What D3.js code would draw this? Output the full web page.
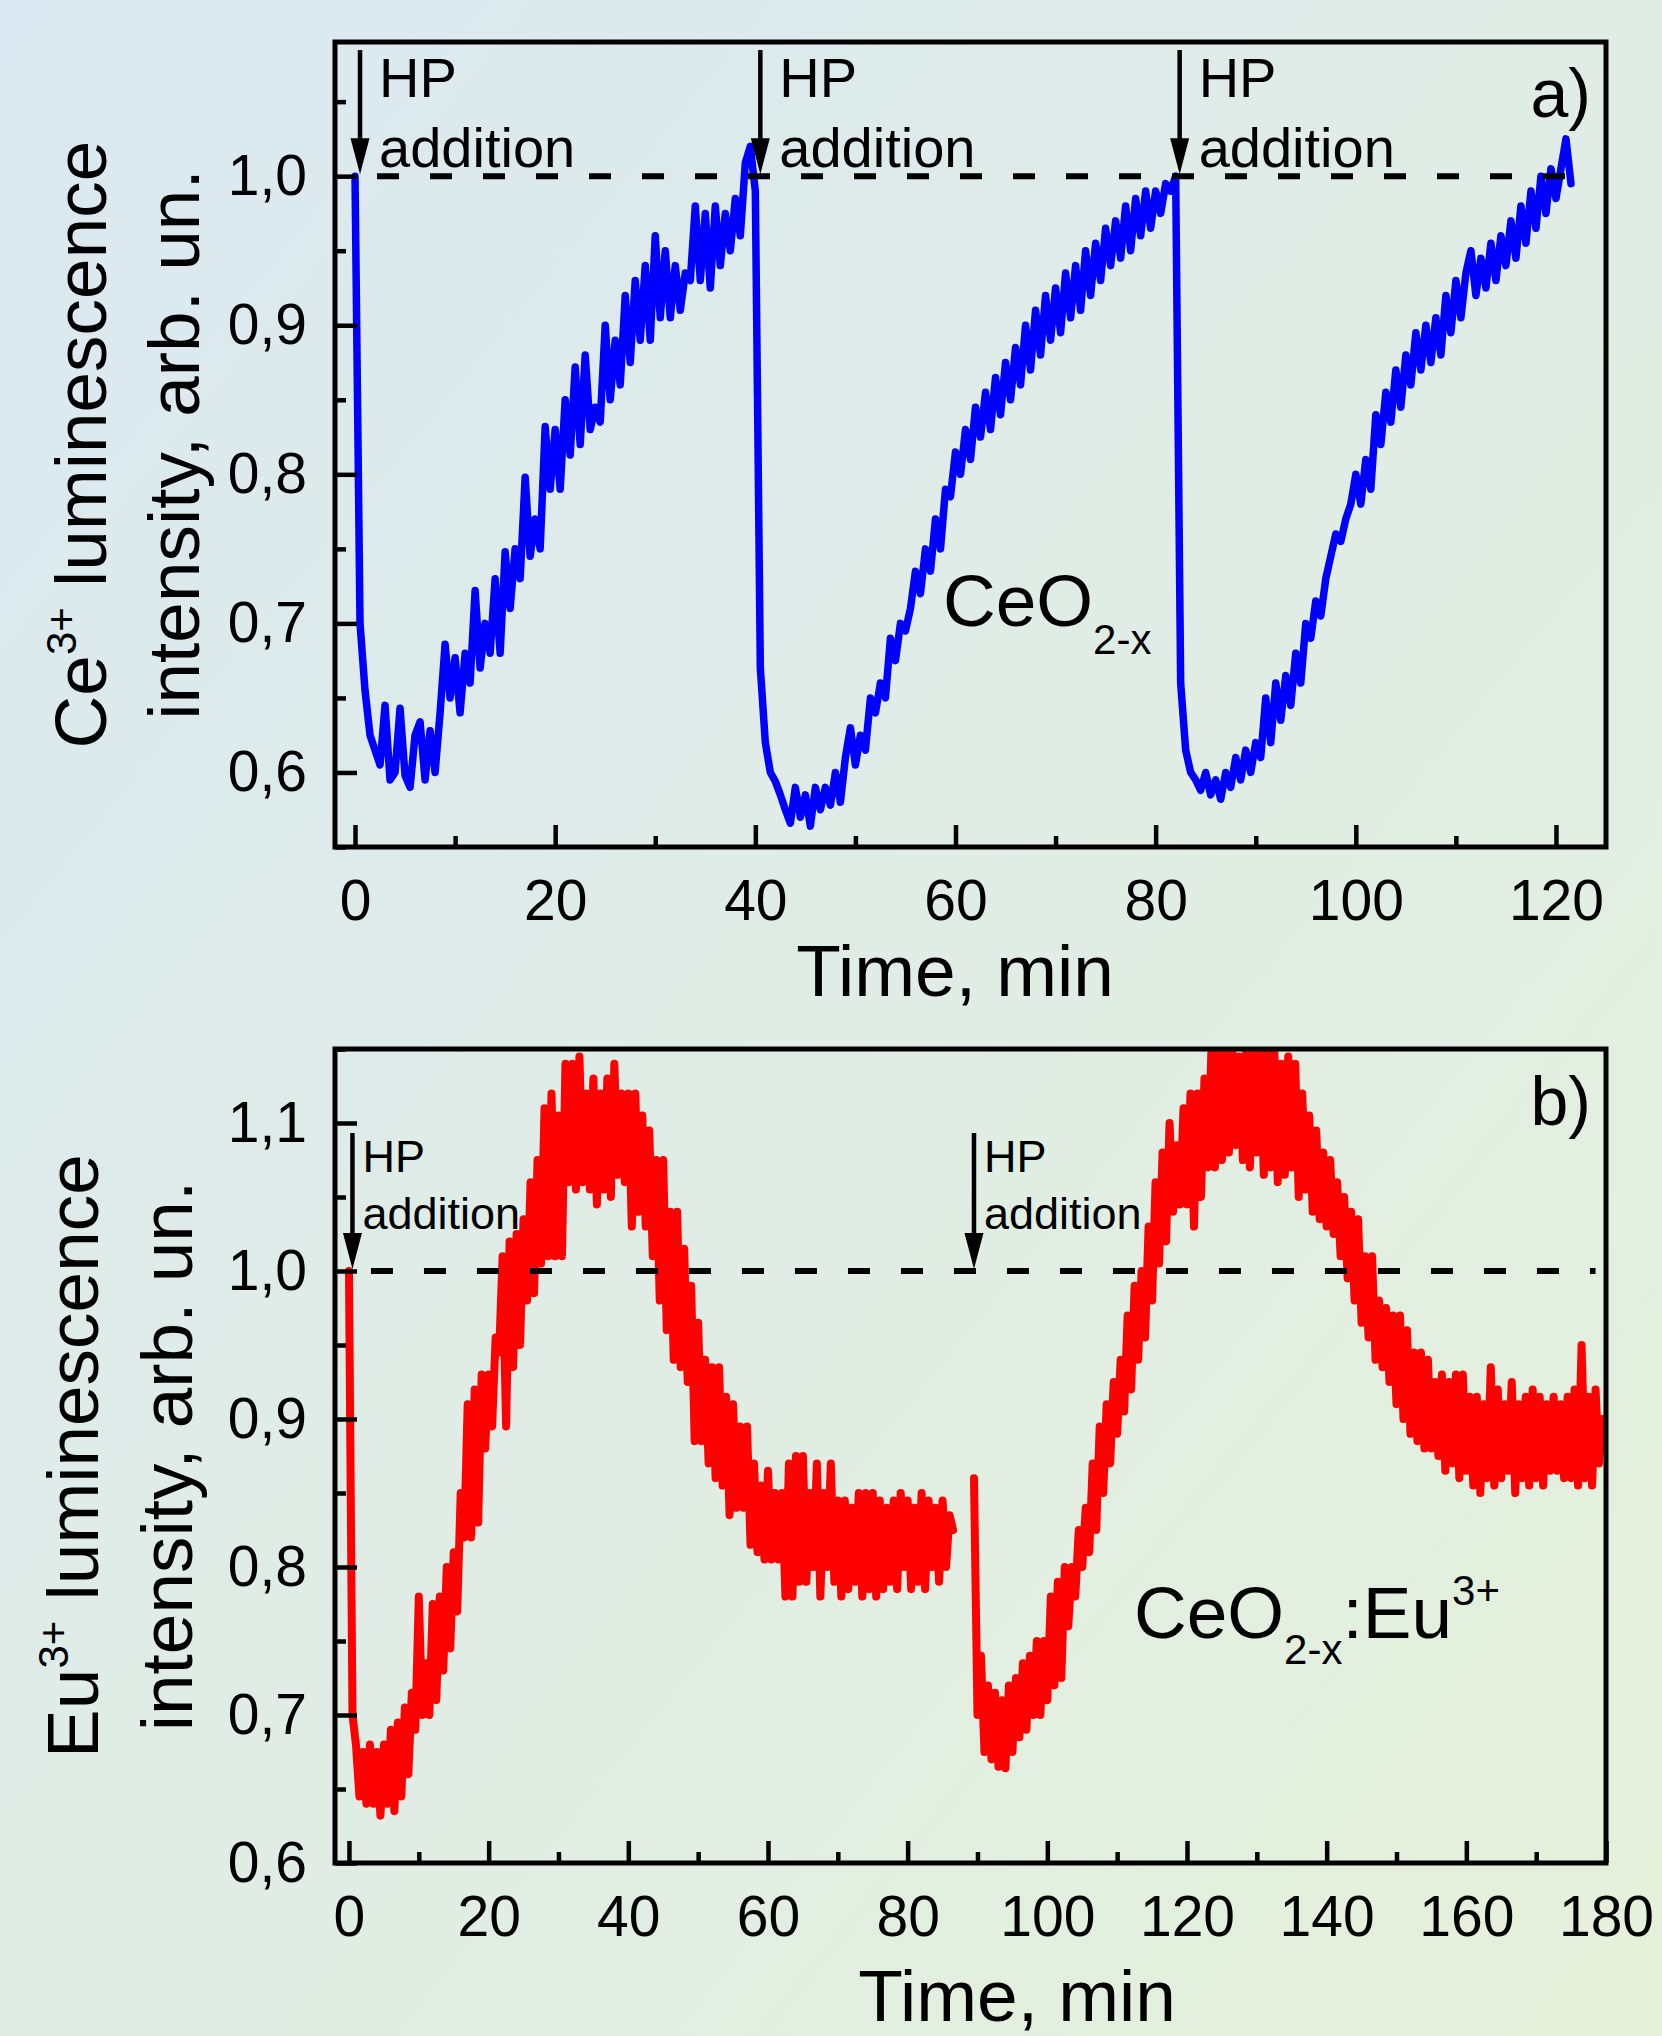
<!doctype html>
<html>
<head>
    <meta charset="UTF-8">
    <title>Ce3+ and Eu3+ luminescence after HP addition</title>
    <script src="https://d3js.org/d3.v7.min.js"></script>
    <style>
        body { margin: 0; }
        text { font-family: "Liberation Sans", Arial, sans-serif; fill: #000; }
    </style>
</head>
<body>
<script>
    var W = 1662, H = 2036;

    // panel a) Ce3+ luminescence of CeO2-x, one reading every 0.5 min from t = 0
    var ceStart = 0, ceStep = 0.5;
    var ceValues = [
        1.0,0.70,0.655,0.625,0.615,0.605,0.645,0.595,0.60,0.643,
        0.598,0.59,0.625,0.634,0.595,0.628,0.60,0.64,0.686,0.65,
        0.677,0.64,0.68,0.66,0.722,0.67,0.70,0.68,0.73,0.68,
        0.748,0.71,0.75,0.73,0.798,0.745,0.77,0.75,0.832,0.79,
        0.83,0.79,0.85,0.813,0.872,0.82,0.88,0.83,0.845,0.835,
        0.90,0.85,0.89,0.86,0.92,0.875,0.93,0.89,0.94,0.89,
        0.96,0.905,0.95,0.905,0.94,0.91,0.935,0.93,0.98,0.93,
        0.975,0.925,0.98,0.94,0.975,0.95,0.985,0.96,1.009,1.02,
        0.99,0.67,0.62,0.60,0.594,0.585,0.575,0.566,0.59,0.57,
        0.585,0.564,0.59,0.575,0.59,0.578,0.60,0.58,0.61,0.63,
        0.605,0.625,0.615,0.65,0.64,0.66,0.65,0.69,0.675,0.70,
        0.695,0.71,0.735,0.72,0.75,0.735,0.77,0.75,0.79,0.785,
        0.815,0.80,0.83,0.81,0.845,0.825,0.855,0.83,0.865,0.84,
        0.875,0.85,0.885,0.86,0.90,0.87,0.91,0.88,0.92,0.89,
        0.925,0.895,0.935,0.905,0.94,0.91,0.95,0.92,0.955,0.93,
        0.965,0.94,0.97,0.945,0.98,0.95,0.985,0.96,0.99,0.965,
        0.99,0.975,0.995,0.99,1.0,0.66,0.615,0.60,0.595,0.588,
        0.60,0.585,0.595,0.582,0.60,0.59,0.61,0.595,0.615,0.60,
        0.62,0.61,0.65,0.62,0.66,0.635,0.665,0.645,0.68,0.66,
        0.70,0.69,0.715,0.705,0.73,0.745,0.76,0.755,0.77,0.78,
        0.80,0.78,0.81,0.79,0.84,0.82,0.855,0.835,0.87,0.845,
        0.88,0.86,0.895,0.87,0.90,0.875,0.905,0.88,0.92,0.895,
        0.93,0.905,0.935,0.95,0.92,0.945,0.925,0.955,0.93,0.96,
        0.94,0.97,0.945,0.98,0.955,0.99,0.965,1.0,0.975,1.005,
        0.985,1.005,1.025,0.995
    ];

    // panel b) Eu3+ luminescence of CeO2-x:Eu3+, two runs, every 0.5 min
    var euStep = 0.5;
    var euStart1 = 0;
    var euValues1 = [
        1.0,0.70,0.68,0.645,0.675,0.64,0.68,0.64,0.675,0.632,
        0.68,0.64,0.69,0.635,0.695,0.645,0.705,0.66,0.715,0.69,
        0.78,0.70,0.735,0.70,0.775,0.71,0.78,0.73,0.80,0.745,
        0.81,0.77,0.85,0.82,0.91,0.82,0.92,0.83,0.93,0.88,
        0.93,0.895,0.955,0.945,1.01,0.895,1.02,0.935,1.025,0.95,
        1.035,0.98,1.06,0.985,1.075,1.005,1.11,1.01,1.12,1.01,
        1.105,1.01,1.14,1.06,1.14,1.055,1.145,1.06,1.12,1.055,
        1.13,1.045,1.12,1.055,1.13,1.05,1.14,1.065,1.12,1.06,
        1.12,1.03,1.12,1.04,1.105,1.03,1.095,1.01,1.075,0.98,
        1.075,0.96,1.04,0.94,1.04,0.935,1.015,0.925,0.99,0.885,
        0.965,0.885,0.94,0.87,0.935,0.86,0.935,0.855,0.915,0.835,
        0.91,0.84,0.895,0.84,0.895,0.815,0.87,0.81,0.855,0.805,
        0.865,0.805,0.85,0.805,0.85,0.78,0.87,0.78,0.875,0.79,
        0.875,0.79,0.85,0.80,0.87,0.78,0.85,0.80,0.87,0.79,
        0.845,0.78,0.845,0.785,0.84,0.79,0.85,0.78,0.85,0.785,
        0.85,0.78,0.845,0.785,0.84,0.79,0.845,0.785,0.85,0.80,
        0.845,0.785,0.84,0.79,0.85,0.785,0.845,0.80,0.84,0.79,
        0.845,0.80,0.835,0.825
    ];
    var euStart2 = 89.5;
    var euValues2 = [
        0.86,0.70,0.74,0.675,0.72,0.67,0.715,0.665,0.71,0.664,
        0.72,0.675,0.725,0.685,0.735,0.69,0.74,0.70,0.75,0.70,
        0.75,0.71,0.78,0.72,0.79,0.725,0.80,0.76,0.80,0.78,
        0.825,0.80,0.84,0.81,0.87,0.825,0.895,0.85,0.91,0.87,
        0.925,0.89,0.94,0.905,0.97,0.92,0.99,0.94,1.0,0.955,
        1.03,0.98,1.06,1.005,1.08,1.02,1.10,1.04,1.085,1.045,
        1.11,1.045,1.12,1.03,1.12,1.05,1.13,1.07,1.15,1.07,
        1.15,1.075,1.15,1.08,1.15,1.085,1.145,1.075,1.15,1.07,
        1.15,1.08,1.15,1.065,1.15,1.07,1.15,1.06,1.14,1.065,
        1.145,1.07,1.14,1.05,1.12,1.055,1.105,1.04,1.095,1.035,
        1.08,1.03,1.075,1.025,1.06,1.01,1.05,0.995,1.04,0.98,
        1.035,0.965,1.01,0.955,1.01,0.94,0.98,0.935,0.975,0.925,
        0.97,0.91,0.97,0.90,0.96,0.89,0.945,0.885,0.945,0.88,
        0.94,0.88,0.925,0.875,0.93,0.865,0.925,0.87,0.93,0.86,
        0.93,0.865,0.915,0.855,0.915,0.85,0.91,0.86,0.935,0.855,
        0.92,0.86,0.91,0.865,0.925,0.85,0.91,0.86,0.915,0.855,
        0.92,0.86,0.915,0.855,0.91,0.865,0.915,0.865,0.91,0.86,
        0.915,0.86,0.92,0.855,0.95,0.86,0.915,0.855,0.92,0.87,
        0.90
    ];

    // ticks
    var xMajorA = [0, 20, 40, 60, 80, 100, 120];
    var xMinorA = [10, 30, 50, 70, 90, 110];
    var yMajorA = [0.6, 0.7, 0.8, 0.9, 1.0];
    var yMinorA = [0.55, 0.65, 0.75, 0.85, 0.95, 1.05];
    var xMajorB = [0, 20, 40, 60, 80, 100, 120, 140, 160, 180];
    var xMinorB = [10, 30, 50, 70, 90, 110, 130, 150, 170];
    var yMajorB = [0.6, 0.7, 0.8, 0.9, 1.0, 1.1];
    var yMinorB = [0.65, 0.75, 0.85, 0.95, 1.05, 1.15];

    // moments of hydrogen peroxide addition (min)
    var hpTimesA = [0.5, 40.5, 82.4];
    var hpTimesB = [0.5, 89.5];

    var svg = d3.select("body").append("svg")
        .attr("width", W)
        .attr("height", H);

    var grad = svg.append("defs").append("linearGradient")
        .attr("id", "bg")
        .attr("x1", "0").attr("y1", "0")
        .attr("x2", "1").attr("y2", "1");
    grad.append("stop").attr("offset", "0").attr("stop-color", "#dbe8f1");
    grad.append("stop").attr("offset", "1").attr("stop-color", "#e5f1da");
    svg.append("rect").attr("width", W).attr("height", H).attr("fill", "url(#bg)");

    function commaFmt(d){
        return d3.format(".1f")(d).replace(".", ",");
    }

    function toPoints(start, step, values){
        return values.map(function(v, i){ return {t: start + i * step, v: v}; });
    }

    function drawPanel(p){
        var x = d3.scaleLinear().domain(p.xDomain).range([p.left, p.right]);
        var y = d3.scaleLinear().domain(p.yDomain).range([p.bottom, p.top]);
        var g = svg.append("g");

        svg.select("defs").append("clipPath").attr("id", "clip-" + p.name)
           .append("rect")
           .attr("x", p.left).attr("y", p.top)
           .attr("width", p.right - p.left).attr("height", p.bottom - p.top);

        var line = d3.line()
            .x(function(d){ return x(d.t); })
            .y(function(d){ return y(d.v); });

        var plot = g.append("g").attr("clip-path", "url(#clip-" + p.name + ")");
        p.series.forEach(function(s){
            plot.append("path")
                .datum(s)
                .attr("d", line)
                .attr("fill", "none")
                .attr("stroke", p.color)
                .attr("stroke-width", p.lineWidth)
                .attr("stroke-linejoin", "round")
                .attr("stroke-linecap", "round");
        });

        // dashed level 1,0
        g.append("line")
            .attr("x1", x(0) + 8).attr("x2", x(p.dashEnd))
            .attr("y1", y(1)).attr("y2", y(1))
            .attr("stroke", "#000")
            .attr("stroke-width", 6)
            .attr("stroke-dasharray", "22,31")
            .attr("stroke-dashoffset", -14);

        // axes, ticks pointing inward
        function styleAxis(sel){
            sel.select(".domain").remove();
            sel.selectAll("line").attr("stroke", "#000").attr("stroke-width", 4.5);
            sel.selectAll("text").attr("font-size", 57).attr("font-family", null).attr("fill", "#000");
        }
        g.append("g").attr("transform", "translate(0," + p.bottom + ")")
            .call(d3.axisBottom(x).tickValues(p.xMajor).tickSize(-22).tickSizeOuter(0).tickPadding(33).tickFormat(d3.format("d")))
            .call(styleAxis);
        g.append("g").attr("transform", "translate(0," + p.bottom + ")")
            .call(d3.axisBottom(x).tickValues(p.xMinor).tickSize(-11).tickSizeOuter(0).tickFormat(""))
            .call(styleAxis);
        g.append("g").attr("transform", "translate(" + p.left + ",0)")
            .call(d3.axisLeft(y).tickValues(p.yMajor).tickSize(-22).tickSizeOuter(0).tickPadding(28).tickFormat(commaFmt))
            .call(styleAxis);
        g.append("g").attr("transform", "translate(" + p.left + ",0)")
            .call(d3.axisLeft(y).tickValues(p.yMinor).tickSize(-11).tickSizeOuter(0).tickFormat(""))
            .call(styleAxis);

        // frame
        g.append("rect")
            .attr("x", p.left).attr("y", p.top)
            .attr("width", p.right - p.left).attr("height", p.bottom - p.top)
            .attr("fill", "none")
            .attr("stroke", "#000")
            .attr("stroke-width", 5);

        // HP addition arrows
        p.hpTimes.forEach(function(t){
            var ax = x(t), tip = y(1) - 2, top = p.arrowTop;
            g.append("line")
                .attr("x1", ax).attr("x2", ax)
                .attr("y1", top).attr("y2", tip - 30)
                .attr("stroke", "#000").attr("stroke-width", 4.5);
            g.append("path")
                .attr("d", "M" + (ax - 9.5) + "," + (tip - 36) + "L" + (ax + 9.5) + "," + (tip - 36) + "L" + ax + "," + tip + "Z")
                .attr("fill", "#000");
            g.append("text")
                .attr("x", ax + p.hpDx).attr("y", top + p.hpLine1)
                .attr("font-size", p.hpFont)
                .text("HP");
            g.append("text")
                .attr("x", ax + p.hpDx).attr("y", top + p.hpLine2)
                .attr("font-size", p.hpFont)
                .text("addition");
        });

        // x axis title
        svg.append("text")
            .attr("x", p.xTitleX).attr("y", p.xTitleY)
            .attr("text-anchor", "middle")
            .attr("font-size", 73)
            .text("Time, min");

        // y axis title, two lines
        var cy = (p.top + p.bottom) / 2;
        var t1 = svg.append("text")
            .attr("transform", "translate(" + p.yTitle1 + "," + cy + ") rotate(-90)")
            .attr("text-anchor", "middle")
            .attr("font-size", 73);
        t1.append("tspan").text(p.ion);
        t1.append("tspan").attr("dy", -30).attr("font-size", 42).text("3+");
        t1.append("tspan").attr("dy", 30).text(" luminescence");
        svg.append("text")
            .attr("transform", "translate(" + p.yTitle2 + "," + cy + ") rotate(-90)")
            .attr("text-anchor", "middle")
            .attr("font-size", 73)
            .text("intensity, arb. un.");

        // panel letter
        svg.append("text")
            .attr("x", 1591).attr("y", p.letterY)
            .attr("text-anchor", "end")
            .attr("font-size", 68)
            .text(p.letter);
    }

    drawPanel({
        name: "a", color: "#0000ff", lineWidth: 7.5,
        left: 335, right: 1606, top: 42, bottom: 847,
        xDomain: [-2, 125], yDomain: [0.55, 1.09],
        series: [toPoints(ceStart, ceStep, ceValues)],
        dashEnd: 123,
        xMajor: xMajorA, xMinor: xMinorA, yMajor: yMajorA, yMinor: yMinorA,
        hpTimes: hpTimesA, arrowTop: 50, hpDx: 19, hpLine1: 47, hpLine2: 117, hpFont: 56,
        xTitleX: 955, xTitleY: 996,
        ion: "Ce", yTitle1: 106, yTitle2: 199,
        letter: "a)", letterY: 117
    });

    drawPanel({
        name: "b", color: "#ff0000", lineWidth: 8,
        left: 335, right: 1606, top: 1049, bottom: 1863,
        xDomain: [-2, 180], yDomain: [0.6, 1.15],
        series: [toPoints(euStart1, euStep, euValues1), toPoints(euStart2, euStep, euValues2)],
        dashEnd: 178.5,
        xMajor: xMajorB, xMinor: xMinorB, yMajor: yMajorB, yMinor: yMinorB,
        hpTimes: hpTimesB, arrowTop: 1133, hpDx: 10, hpLine1: 39, hpLine2: 96, hpFont: 45,
        xTitleX: 1017, xTitleY: 2021,
        ion: "Eu", yTitle1: 98, yTitle2: 192,
        letter: "b)", letterY: 1125
    });

    // sample labels
    var la = svg.append("text").attr("x", 943).attr("y", 626).attr("font-size", 73);
    la.append("tspan").text("CeO");
    la.append("tspan").attr("dy", 28).attr("font-size", 42).text("2-x");

    var lb = svg.append("text").attr("x", 1134).attr("y", 1638).attr("font-size", 73);
    lb.append("tspan").text("CeO");
    lb.append("tspan").attr("dy", 26).attr("font-size", 42).text("2-x");
    lb.append("tspan").attr("dy", -26).text(":Eu");
    lb.append("tspan").attr("dy", -33).attr("font-size", 42).text("3+");
</script>
</body>
</html>
